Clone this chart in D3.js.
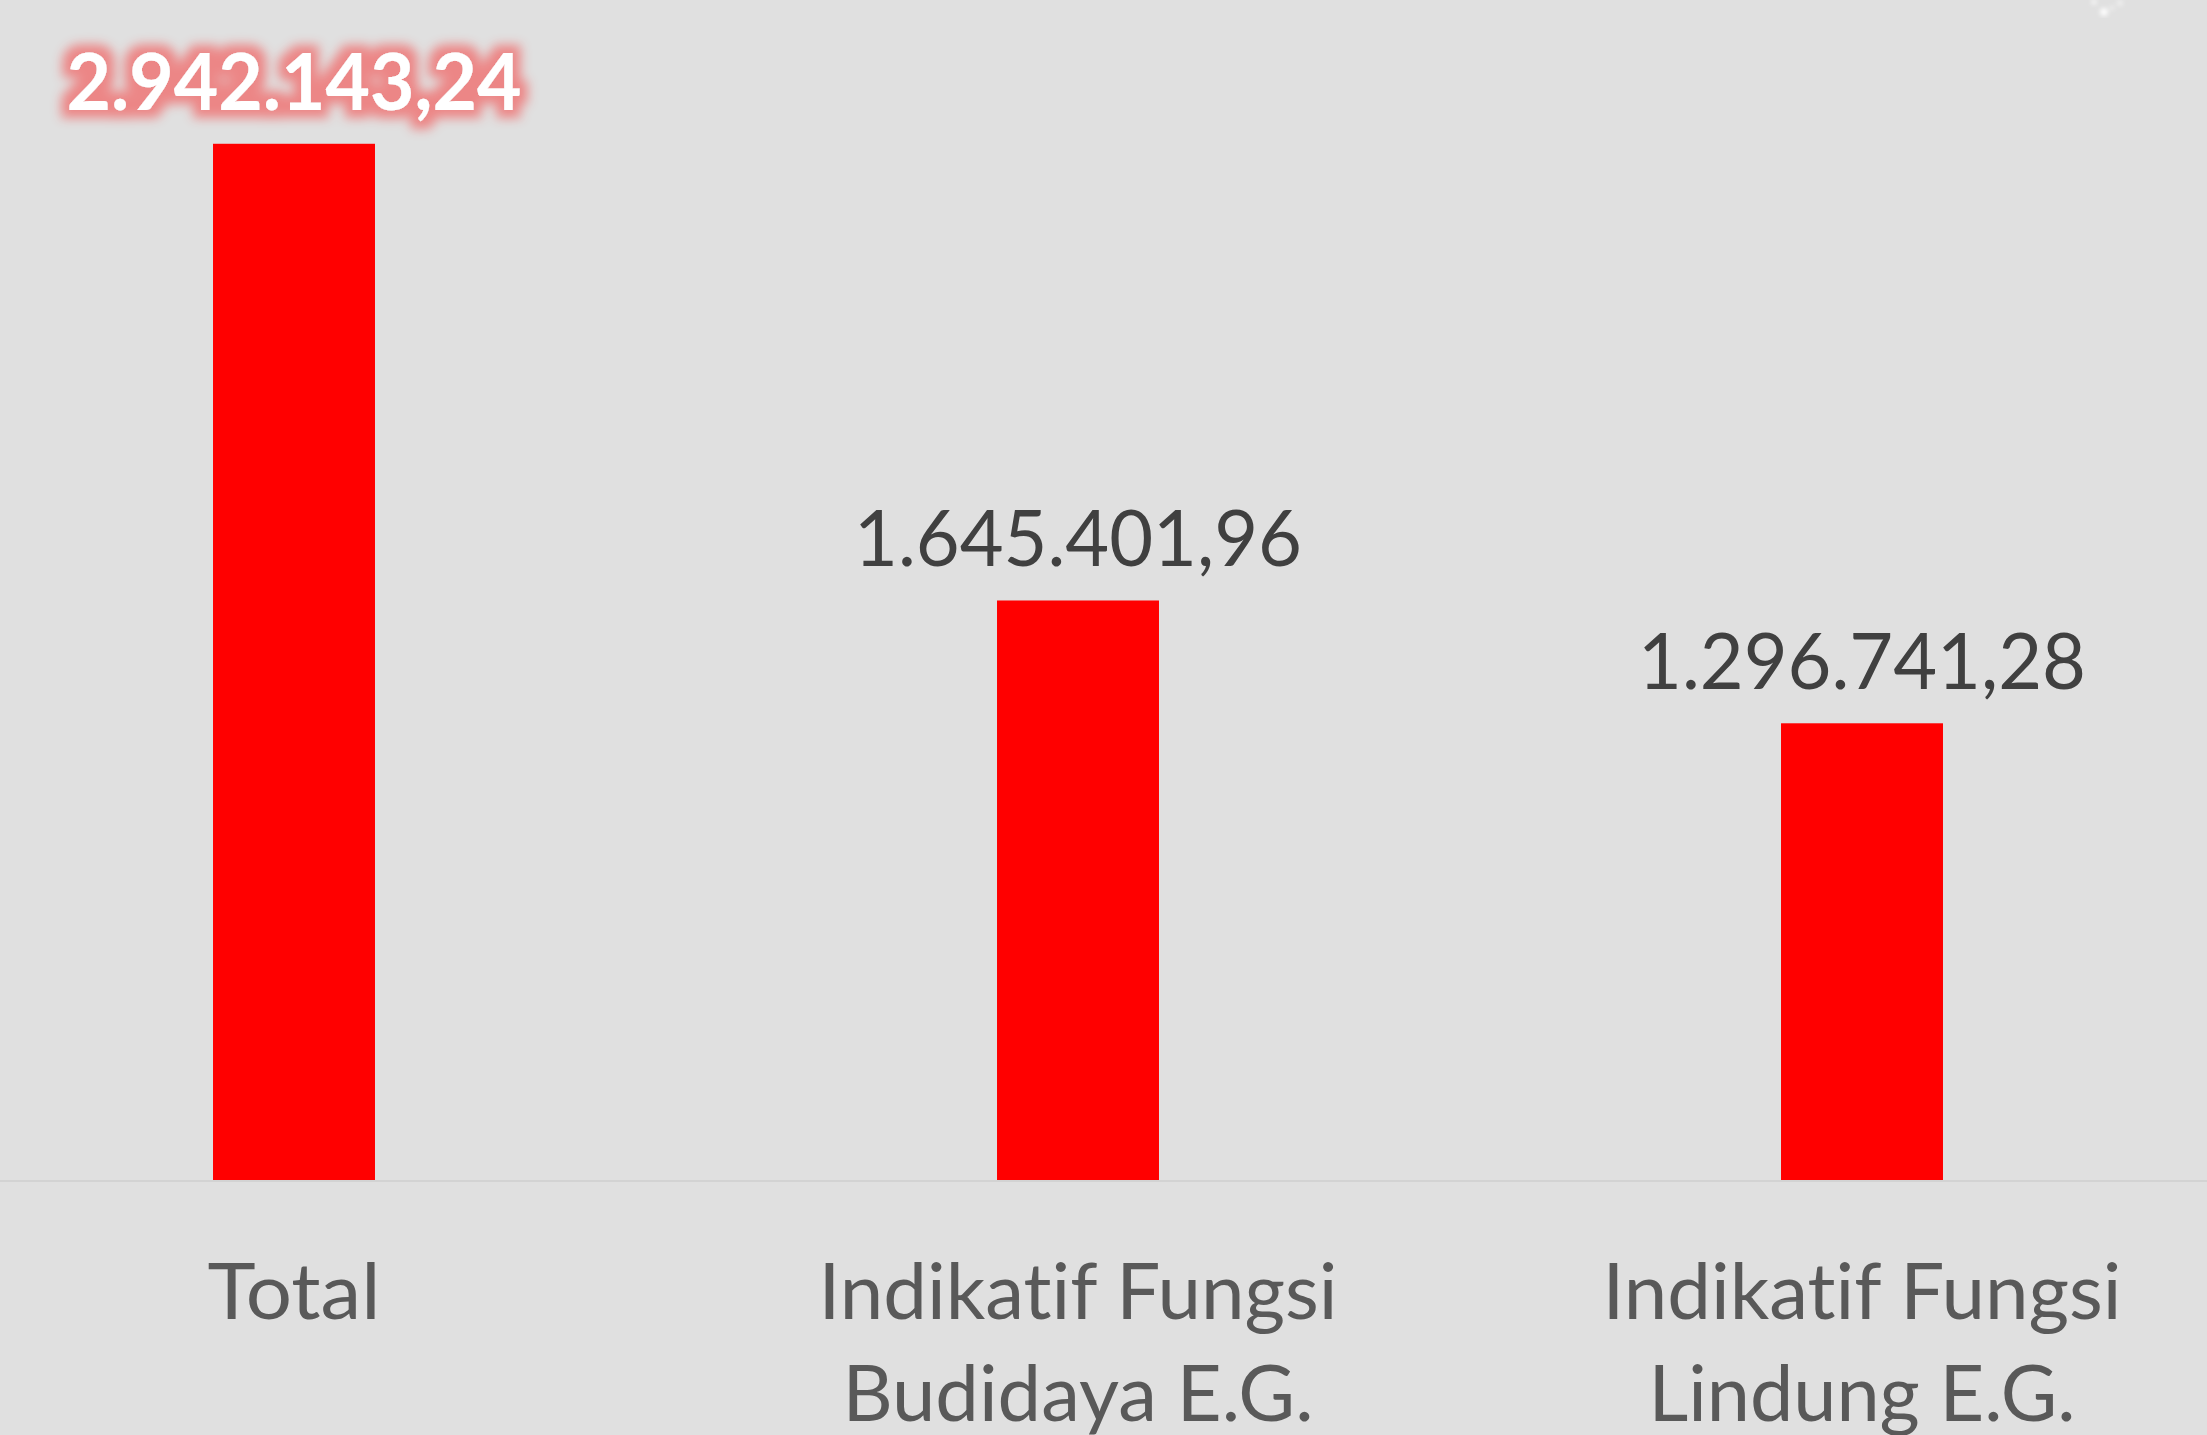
<!DOCTYPE html>
<html>
<head>
<meta charset="utf-8">
<script src="https://cdn.jsdelivr.net/npm/d3@7"></script>
<style>
  html, body { margin: 0; padding: 0; background: #e0e0e0; overflow: hidden; }
  svg { display: block; }
  text { font-variant-ligatures: none; font-feature-settings: "liga" 0, "clig" 0; }
</style>
</head>
<body>
<script>
// ---- data ----
const categories = ["Total", "Indikatif Fungsi Budidaya E.G.", "Indikatif Fungsi Lindung E.G."];
const categoryLines = [["Total"], ["Indikatif Fungsi", "Budidaya E.G."], ["Indikatif Fungsi", "Lindung E.G."]];
const values = [2942143.24, 1645401.96, 1296741.28];
const valueLabels = ["2.942.143,24", "1.645.401,96", "1.296.741,28"];

const W = 2207, H = 1435;
const svg = d3.select("body").append("svg").attr("width", W).attr("height", H);

svg.append("rect").attr("width", W).attr("height", H).attr("fill", "#e0e0e0");

const defs = svg.append("defs");
const glow = defs.append("filter").attr("id", "glow")
  .attr("x", "-20%").attr("y", "-80%").attr("width", "140%").attr("height", "260%");
glow.append("feMorphology").attr("in", "SourceAlpha").attr("operator", "dilate").attr("radius", 8).attr("result", "d");
glow.append("feGaussianBlur").attr("in", "d").attr("stdDeviation", 5.5).attr("result", "b");
glow.append("feFlood").attr("flood-color", "#ff0000").attr("flood-opacity", 0.4).attr("result", "f");
glow.append("feComposite").attr("in", "f").attr("in2", "b").attr("operator", "in").attr("result", "g");
const merge = glow.append("feMerge");
merge.append("feMergeNode").attr("in", "g");
merge.append("feMergeNode").attr("in", "SourceGraphic");

const blur = defs.append("filter").attr("id", "soft");
blur.append("feGaussianBlur").attr("stdDeviation", 2);

// ---- scales ----
const baseY = 1180;
const x = d3.scaleBand().domain(categories).range([-98, 2254]).padding(0);
const y = d3.scaleLinear().domain([0, 3000000]).range([baseY, 123.4]);
const barW = x.bandwidth() * 0.2066;

// axis baseline
svg.append("line").attr("x1", 0).attr("x2", W).attr("y1", baseY + 1).attr("y2", baseY + 1)
  .attr("stroke", "#d3d3d3").attr("stroke-width", 2);

// bars
svg.selectAll("rect.bar").data(values).join("rect")
  .attr("class", "bar")
  .attr("x", (d, i) => x(categories[i]) + x.bandwidth() / 2 - barW / 2)
  .attr("width", barW)
  .attr("y", d => y(d))
  .attr("height", d => baseY - y(d))
  .attr("fill", "#ff0000");

const font = "Lato, 'Noto Sans', sans-serif";
const labelWidths = [455, 448, 448];

// value labels
svg.selectAll("text.val").data(values).join("text")
  .attr("class", "val")
  .attr("x", (d, i) => x(categories[i]) + x.bandwidth() / 2)
  .attr("y", d => y(d) - 34)
  .attr("text-anchor", "middle")
  .attr("font-family", font)
  .attr("font-size", 78)
  .attr("font-weight", (d, i) => i === 0 ? 700 : 400)
  .attr("fill", (d, i) => i === 0 ? "#ffffff" : "#404040")
  .attr("filter", (d, i) => i === 0 ? "url(#glow)" : null)
  .attr("textLength", (d, i) => labelWidths[i])
  .attr("lengthAdjust", "spacingAndGlyphs")
  .text((d, i) => valueLabels[i]);

// category labels
const catWidths = [[173], [519, 471], [519, 427]];
categoryLines.forEach((lines, i) => {
  lines.forEach((ln, j) => {
    svg.append("text")
      .attr("x", x(categories[i]) + x.bandwidth() / 2)
      .attr("y", 1319 + j * 102)
      .attr("text-anchor", "middle")
      .attr("font-family", font)
      .attr("font-size", 78)
      .attr("fill", "#595959")
      .attr("textLength", catWidths[i][j])
      .attr("lengthAdjust", "spacingAndGlyphs")
      .text(ln);
  });
});

// small decorative sparkle top-right
const sp = svg.append("g").attr("filter", "url(#soft)");
[[2104, 12, 4, 0.9], [2094, 2, 3, 0.6], [2120, 3, 3, 0.5], [2112, 8, 2.5, 0.4]].forEach(([cx, cy, r, o]) => {
  sp.append("circle").attr("cx", cx).attr("cy", cy).attr("r", r).attr("fill", "#fff").attr("opacity", o);
});
</script>
</body>
</html>
